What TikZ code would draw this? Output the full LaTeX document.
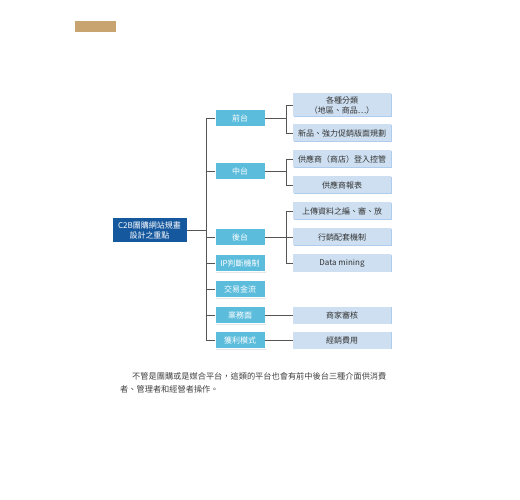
\documentclass[tikz,border=0pt]{standalone}
\usepackage{fontspec}
\newfontfamily\cjk{Noto Sans CJK TC}
\usetikzlibrary{positioning,shadows}

\definecolor{tanbar}{RGB}{200,164,112}
\definecolor{rootblue}{RGB}{22,88,158}
\definecolor{lvlcyan}{RGB}{92,188,220}
\definecolor{leafblue}{RGB}{205,223,240}
\definecolor{leafedge}{RGB}{120,170,225}
\definecolor{linkgray}{RGB}{85,85,85}

\begin{document}
\begin{tikzpicture}[
  x=1pt, y=-1pt,
  box/.style={inner sep=1pt, align=center, font=\cjk\fontsize{8}{10}\selectfont},
  rootbox/.style={box, fill=rootblue, draw=white, text=white,
                  minimum width=75pt, minimum height=25pt,
                  drop shadow={opacity=0.25, shadow xshift=1pt, shadow yshift=-1pt}},
  lvlbox/.style={box, fill=lvlcyan, draw=white, text=white,
                 minimum width=50pt, minimum height=17pt,
                 drop shadow={opacity=0.2, shadow xshift=1pt, shadow yshift=-1pt}},
  leafbox/.style={box, fill=leafblue, text=black!80,
                  minimum width=98pt, minimum height=17pt,
                  drop shadow={fill=leafedge, opacity=0.6, shadow xshift=1pt, shadow yshift=-0.6pt}},
  link/.style={draw=linkgray, line width=0.8pt}
]
\useasboundingbox (0,0) rectangle (520,500);
\fill[tanbar] (75,21) rectangle (116,32);

% root and first level
\node[rootbox] (root) at (149.5,230) {C2B團購網站規畫\\設計之重點};
\node[lvlbox] (front)  at (240,118) {前台};
\node[lvlbox] (mid)    at (240,171) {中台};
\node[lvlbox] (back)   at (240,237) {後台};
\node[lvlbox] (ipchk)  at (240,263) {IP判斷機制};
\node[lvlbox] (cash)   at (240,289) {交易金流};
\node[lvlbox] (biz)    at (240,315) {業務面};
\node[lvlbox] (profit) at (240,340) {獲利模式};

% second level
\node[leafbox, minimum height=23pt] (cat) at (342,105) {各種分類\\（地區、商品⋯）};
\node[leafbox] (promo)  at (342,133) {新品、強力促銷版面規劃};
\node[leafbox] (login)  at (342,159) {供應商（商店）登入控管};
\node[leafbox] (report) at (342,185) {供應商報表};
\node[leafbox] (upload) at (342,211) {上傳資料之編、審、放};
\node[leafbox] (mkt)    at (342,237) {行銷配套機制};
\node[leafbox] (mining) at (342,263) {Data mining};
\node[leafbox] (audit)  at (342,315) {商家審核};
\node[leafbox] (fee)    at (342,340) {經銷費用};

\coordinate (tx) at (206,0);
\coordinate (bx) at (286,0);

% trunk
\draw[link] (root.east) -- (root.east -| tx);
\draw[link] (front.west) -- (front.west -| tx) |- (profit.west);
\foreach \n in {mid,back,ipchk,cash,biz}
  \draw[link] (\n.west) -- (\n.west -| tx);

% brackets
\draw[link] (front.east) -- (front.east -| bx);
\draw[link] (cat.west) -- (cat.west -| bx) |- (promo.west);
\draw[link] (mid.east) -- (mid.east -| bx);
\draw[link] (login.west) -- (login.west -| bx) |- (report.west);
\draw[link] (back.east) -- (mkt.west);
\draw[link] (upload.west) -- (upload.west -| bx) |- (mining.west);
\draw[link] (biz.east) -- (audit.west);
\draw[link] (profit.east) -- (fee.west);

\node[font=\cjk\fontsize{8.2}{13}\selectfont, text=black!75, align=left,
      anchor=north west, inner sep=0pt] (note) at (120,372)
  {\hspace*{12pt}不管是團購或是媒合平台，這類的平台也會有前中後台三種介面供消費\\
   者、管理者和經營者操作。};
\end{tikzpicture}
\end{document}
